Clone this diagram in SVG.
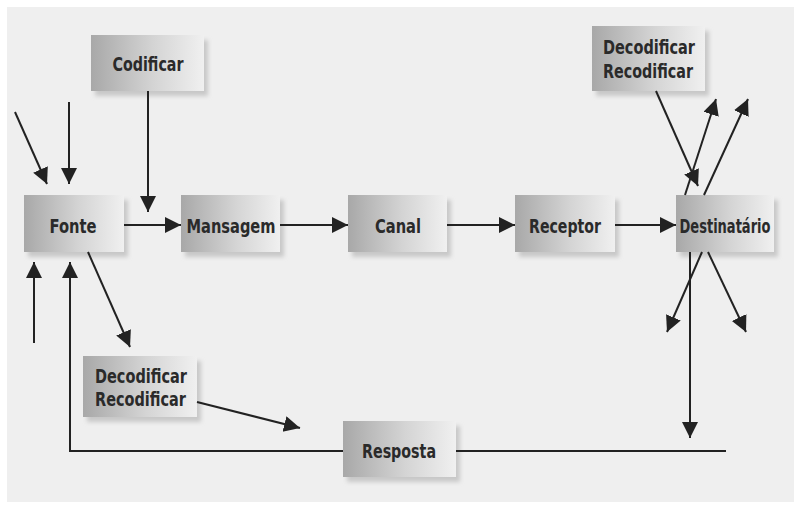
<svg xmlns="http://www.w3.org/2000/svg" width="800" height="508" viewBox="0 0 800 508">
<defs>
<linearGradient id="g" x1="0" y1="0" x2="1" y2="0">
<stop offset="0" stop-color="#a8a8a8"/>
<stop offset="0.55" stop-color="#d4d4d4"/>
<stop offset="1" stop-color="#f0f0f0"/>
</linearGradient>
<filter id="blur" x="-20%" y="-20%" width="140%" height="140%"><feGaussianBlur stdDeviation="2"/></filter>
<marker id="ah" markerUnits="userSpaceOnUse" markerWidth="18" markerHeight="18" refX="16" refY="8" orient="auto">
<path d="M0,0 L16,8 L0,16 z" fill="#222"/>
</marker>
</defs>
<style>
.sh{fill:#c8c8c8;filter:url(#blur)}
.bx{fill:url(#g)}
.t{font-family:"DejaVu Sans Condensed","Liberation Sans Narrow","DejaVu Sans",sans-serif;font-weight:bold;font-size:20px;fill:#2a2a2a}
.c{fill:none;stroke:#222;stroke-width:2}
.a{marker-end:url(#ah)}
</style>
<rect x="0" y="0" width="800" height="508" fill="#ffffff"/>
<rect x="7" y="7" width="787" height="495" fill="#efefef"/>

<g id="codificar"><rect class="sh" x="95" y="40" width="113" height="56"/><rect class="bx" x="91" y="35" width="113" height="56"/><text class="t" x="148" y="71" text-anchor="middle" textLength="71" lengthAdjust="spacingAndGlyphs">Codificar</text></g>
<g id="fonte"><rect class="sh" x="28" y="200" width="100" height="57"/><rect class="bx" x="24" y="195" width="100" height="57"/><text class="t" x="73" y="233" text-anchor="middle" textLength="47" lengthAdjust="spacingAndGlyphs">Fonte</text></g>
<g id="mansagem"><rect class="sh" x="185" y="200" width="99" height="57"/><rect class="bx" x="181" y="195" width="99" height="57"/><text class="t" x="231" y="233" text-anchor="middle" textLength="89" lengthAdjust="spacingAndGlyphs">Mansagem</text></g>
<g id="canal"><rect class="sh" x="352" y="200" width="99" height="57"/><rect class="bx" x="348" y="195" width="99" height="57"/><text class="t" x="398" y="233" text-anchor="middle" textLength="46" lengthAdjust="spacingAndGlyphs">Canal</text></g>
<g id="receptor"><rect class="sh" x="519" y="200" width="100" height="57"/><rect class="bx" x="515" y="195" width="100" height="57"/><text class="t" x="565" y="233" text-anchor="middle" textLength="72" lengthAdjust="spacingAndGlyphs">Receptor</text></g>
<g id="destinatario"><rect class="sh" x="680" y="200" width="98" height="57"/><rect class="bx" x="676" y="195" width="98" height="57"/><text class="t" x="725" y="233" text-anchor="middle" textLength="91" lengthAdjust="spacingAndGlyphs">Destinatário</text></g>
<g id="decodificar-topo"><rect class="sh" x="596" y="31" width="113" height="65"/><rect class="bx" x="592" y="26" width="113" height="65"/><text class="t" x="603" y="54" textLength="92" lengthAdjust="spacingAndGlyphs">Decodificar</text><text class="t" x="603" y="78" textLength="90" lengthAdjust="spacingAndGlyphs">Recodificar</text></g>
<g id="decodificar-baixo"><rect class="sh" x="87" y="361" width="114" height="61"/><rect class="bx" x="83" y="356" width="114" height="61"/><text class="t" x="95" y="383" textLength="92" lengthAdjust="spacingAndGlyphs">Decodificar</text><text class="t" x="95" y="406" textLength="91" lengthAdjust="spacingAndGlyphs">Recodificar</text></g>
<g id="resposta"><rect class="sh" x="347" y="426" width="113" height="56"/><rect class="bx" x="343" y="421" width="113" height="56"/><text class="t" x="399" y="458" text-anchor="middle" textLength="74" lengthAdjust="spacingAndGlyphs">Resposta</text></g>

<g id="connectors">
<line class="c a" x1="124" y1="225" x2="181" y2="225"/>
<line class="c a" x1="280" y1="225" x2="348" y2="225"/>
<line class="c a" x1="447" y1="225" x2="515" y2="225"/>
<line class="c a" x1="615" y1="225" x2="676" y2="225"/>
<line class="c a" x1="148" y1="91" x2="148" y2="212"/>
<line class="c a" x1="69" y1="102" x2="69" y2="184"/>
<line class="c a" x1="15" y1="112" x2="47" y2="184"/>
<line class="c a" x1="34" y1="343" x2="34" y2="262"/>
<polyline class="c a" points="343,451 70,451 70,262"/>
<line class="c" x1="456" y1="451" x2="726" y2="451"/>
<line class="c a" x1="88" y1="252" x2="130" y2="347"/>
<line class="c a" x1="197" y1="402" x2="300" y2="428"/>
<line class="c a" x1="690" y1="252" x2="690" y2="438"/>
<line class="c a" x1="702" y1="252" x2="667" y2="332"/>
<line class="c a" x1="708" y1="252" x2="746" y2="332"/>
<line class="c a" x1="656" y1="91" x2="698" y2="186"/>
<line class="c a" x1="685" y1="195" x2="716" y2="99"/>
<line class="c a" x1="704" y1="195" x2="748" y2="99"/>
</g>
</svg>
